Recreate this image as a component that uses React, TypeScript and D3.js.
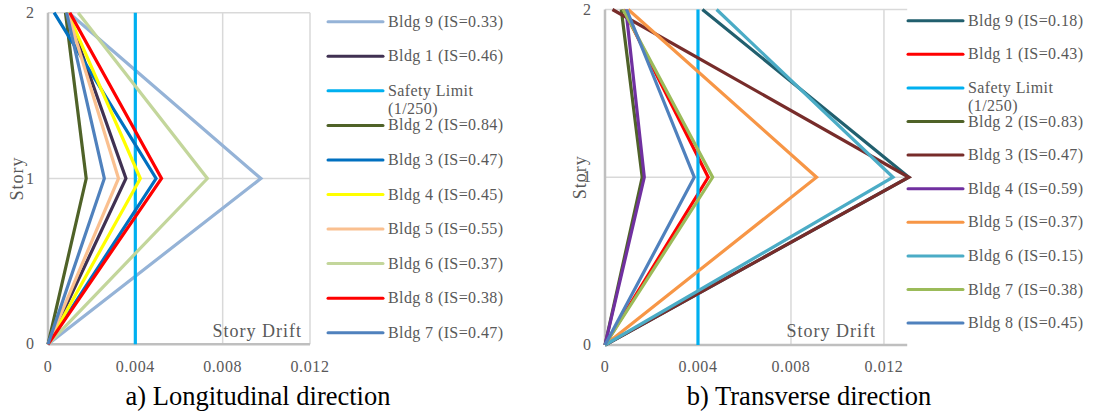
import React from 'react';
import * as d3 from 'd3';

const stories = [0, 1, 2];
const storyTicks = [0, 1, 2];
const driftTicks = [0, 0.004, 0.008, 0.012];

// a) longitudinal direction, drift at story 0 / 1 / 2
const longNames = [
  'Bldg 9 (IS=0.33)', 'Bldg 1 (IS=0.46)', 'Safety Limit\n(1/250)', 'Bldg 2 (IS=0.84)', 'Bldg 3 (IS=0.47)',
  'Bldg 4 (IS=0.45)', 'Bldg 5 (IS=0.55)', 'Bldg 6 (IS=0.37)', 'Bldg 8 (IS=0.38)', 'Bldg 7 (IS=0.47)',
];
const longColors = [
  '#95B3D7', '#403152', '#00B0F0', '#4F6228', '#0070C0',
  '#FFFF00', '#FAC090', '#C3D69B', '#FF0000', '#4F81BD',
];
const longDrift = [
  [0, 0.00975, 0.00095],
  [0, 0.00357, 0.0009],
  [0.004, 0.004, 0.004],
  [0, 0.00175, 0.0008],
  [0, 0.00495, 0.00028],
  [0, 0.00423, 0.0009],
  [0, 0.00323, 0.0009],
  [0, 0.0073, 0.00138],
  [0, 0.0052, 0.001],
  [0, 0.00258, 0.00085],
];

// b) transverse direction
const transNames = [
  'Bldg 9 (IS=0.18)', 'Bldg 1 (IS=0.43)', 'Safety Limit\n(1/250)', 'Bldg 2 (IS=0.83)', 'Bldg 3 (IS=0.47)',
  'Bldg 4 (IS=0.59)', 'Bldg 5 (IS=0.37)', 'Bldg 6 (IS=0.15)', 'Bldg 7 (IS=0.38)', 'Bldg 8 (IS=0.45)',
];
const transColors = [
  '#215F6E', '#FF0000', '#00B0F0', '#4F6228', '#772C2A',
  '#7030A0', '#F79646', '#4BACC6', '#9BBB59', '#4F81BD',
];
const transDrift = [
  [0, 0.01307, 0.00419],
  [0, 0.00444, 0.0008],
  [0.004, 0.004, 0.004],
  [0, 0.0016, 0.0007],
  [0, 0.01307, 0.00032],
  [0, 0.00169, 0.0009],
  [0, 0.0091, 0.001],
  [0, 0.01239, 0.0048],
  [0, 0.00463, 0.00078],
  [0, 0.00384, 0.00093],
];

const grey = '#595959';
const serif = "'Liberation Serif', serif";

type PanelProps = {
  x0: number; x1: number; xMax: number;
  yTop: number; yBottom: number;
  names: string[]; colors: string[]; drift: number[][];
  legendX: number; legendY: number; legendStep: number;
  title: string; titleX: number; storyX: number;
};

const Panel = (p: PanelProps) => {
  const x = d3.scaleLinear().domain([0, p.xMax]).range([p.x0, p.x1]);
  const y = d3.scaleLinear().domain([0, 2]).range([p.yBottom, p.yTop]);
  const line = d3.line<number>().x(d => x(d)).y((d, i) => y(stories[i]));

  return (
    <g>
      {/* grid */}
      {driftTicks.slice(1).map(t => (
        <line key={'gx' + t} x1={x(t)} x2={x(t)} y1={y(0)} y2={y(2)} stroke="#D9D9D9" strokeWidth={1.5} />
      ))}
      {storyTicks.slice(1).map(t => (
        <line key={'gy' + t} x1={x(0)} x2={p.x1} y1={y(t)} y2={y(t)} stroke="#D9D9D9" strokeWidth={1.5} />
      ))}
      <line x1={x(0)} x2={p.x1} y1={y(0)} y2={y(0)} stroke="#BFBFBF" strokeWidth={2.5} />
      <line x1={x(0)} x2={x(0)} y1={y(0)} y2={y(2)} stroke="#BFBFBF" strokeWidth={2.5} />

      {/* ticks */}
      {driftTicks.map(t => (
        <text key={'tx' + t} x={x(t)} y={372} textAnchor="middle" fontFamily={serif} fontSize={16}
          letterSpacing={0.6} fill={grey}>
          {t === 0 ? '0' : d3.format('.3f')(t)}
        </text>
      ))}
      {storyTicks.map(t => (
        <text key={'ty' + t} x={x(0) - 14} y={y(t) + 5} textAnchor="end" fontFamily={serif} fontSize={16} fill={grey}>
          {t}
        </text>
      ))}
      <text transform={`translate(${p.storyX},${(y(0) + y(2)) / 2}) rotate(-90)`} textAnchor="middle"
        dominantBaseline="central" fontFamily={serif} fontSize={18} letterSpacing={1} fill={grey}>Story</text>
      <text x={x(0.012) - 8} y={337} textAnchor="end" fontFamily={serif} fontSize={18} letterSpacing={1}
        fill={grey}>Story Drift</text>

      {/* series */}
      {p.drift.map((d, i) => (
        <path key={'s' + i} d={line(d) || ''} fill="none" stroke={p.colors[i]} strokeWidth={3.2} strokeLinejoin="miter" />
      ))}

      {/* legend */}
      {p.names.map((n, i) => {
        const ly = p.legendY + i * p.legendStep;
        const parts = n.split('\n');
        return (
          <g key={'l' + i}>
            <line x1={p.legendX} x2={p.legendX + 55} y1={ly} y2={ly} stroke={p.colors[i]} strokeWidth={3} strokeLinecap="round" />
            {parts.map((s, j) => (
              <text key={j} x={p.legendX + 60} y={ly + 5 + j * 18} fontFamily={serif} fontSize={16}
                letterSpacing={0.4} fill={grey}>{s}</text>
            ))}
          </g>
        );
      })}

      <text x={p.titleX} y={405} textAnchor="middle" fontFamily={serif} fontSize={26.5} fill="#000">
        {p.title}
      </text>
    </g>
  );
};

export default function App() {
  return (
    <svg width={1094} height={414} style={{ position: 'absolute', left: 0, top: 0, background: '#fff' }}>
      <rect width={1094} height={414} fill="#fff" />
      <Panel x0={48} x1={310} xMax={0.012} yTop={12.7} yBottom={344.3}
        names={longNames} colors={longColors} drift={longDrift}
        legendX={328} legendY={21.7} legendStep={34.56}
        title="a) Longitudinal direction" titleX={258} storyX={16.5} />
      <Panel x0={605} x1={907.2} xMax={0.013} yTop={9.5} yBottom={345}
        names={transNames} colors={transColors} drift={transDrift}
        legendX={908} legendY={20.7} legendStep={33.6}
        title="b) Transverse direction" titleX={809} storyX={580} />
    </svg>
  );
}
